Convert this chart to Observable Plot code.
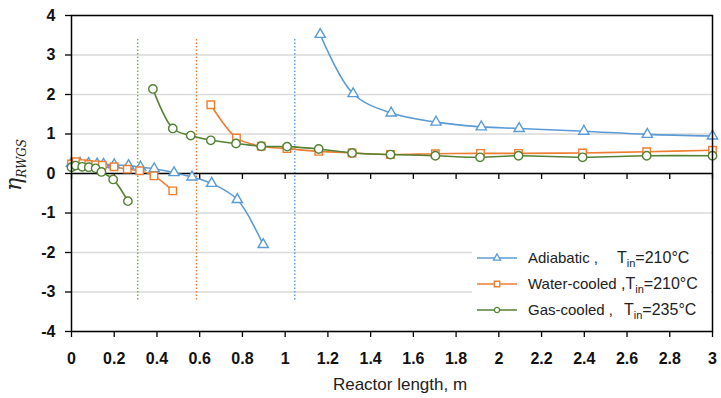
<!DOCTYPE html>
<html>
<head>
<meta charset="utf-8">
<script src="https://cdn.jsdelivr.net/npm/d3@7"></script>
<script src="https://cdn.jsdelivr.net/npm/@observablehq/plot@0.6"></script>
<style>
  html, body { margin: 0; padding: 0; background: #fff; }
  #chart svg { display: block; }
</style>
</head>
<body>
<div id="chart"></div>
<script>
// ---- Data ----
const xTicks = [0, 0.2, 0.4, 0.6, 0.8, 1, 1.2, 1.4, 1.6, 1.8, 2, 2.2, 2.4, 2.6, 2.8, 3];
const yTicks = [-4, -3, -2, -1, 0, 1, 2, 3, 4];

const adiabaticEarlyX = [0, 0.04, 0.08, 0.12, 0.15, 0.2, 0.267, 0.323, 0.387, 0.48, 0.564, 0.656, 0.776, 0.897];
const adiabaticEarlyY = [0.26, 0.26, 0.25, 0.24, 0.23, 0.22, 0.2, 0.16, 0.12, 0.02, -0.09, -0.25, -0.66, -1.8];
const adiabaticLateX = [1.164, 1.318, 1.496, 1.706, 1.918, 2.095, 2.398, 2.695, 3.0];
const adiabaticLateY = [3.52, 2.02, 1.53, 1.30, 1.18, 1.14, 1.07, 0.99, 0.95];

const waterEarlyX = [0, 0.022, 0.053, 0.081, 0.113, 0.144, 0.199, 0.261, 0.319, 0.386, 0.474];
const waterEarlyY = [0.24, 0.30, 0.25, 0.23, 0.22, 0.21, 0.17, 0.11, 0.07, -0.06, -0.44];
const waterLateX = [0.652, 0.772, 0.888, 1.008, 1.157, 1.313, 1.493, 1.703, 1.914, 2.092, 2.392, 2.692, 3.0];
const waterLateY = [1.74, 0.90, 0.69, 0.63, 0.56, 0.52, 0.48, 0.50, 0.51, 0.51, 0.52, 0.55, 0.59];

const gasEarlyX = [0, 0.019, 0.05, 0.081, 0.113, 0.14, 0.195, 0.264];
const gasEarlyY = [0.16, 0.20, 0.17, 0.16, 0.13, 0.04, -0.15, -0.70];
const gasLateX = [0.381, 0.474, 0.558, 0.652, 0.77, 0.888, 1.009, 1.157, 1.313, 1.493, 1.703, 1.912, 2.092, 2.392, 2.692, 3.0];
const gasLateY = [2.14, 1.14, 0.96, 0.84, 0.76, 0.69, 0.68, 0.62, 0.52, 0.48, 0.45, 0.41, 0.45, 0.41, 0.45, 0.45];

const boundaryX = [0.31, 0.585, 1.045];
const boundaryColor = ["#70AD47", "#ED7D31", "#5B9BD5"];
const boundaryTop = 3.4;
const boundaryBottom = -3.2;

const seriesNames = ["Adiabatic ,", "Water-cooled ,", "Gas-cooled ,"];
const seriesTemps = ["210°C", "210°C", "235°C"];
const seriesColors = ["#5B9BD5", "#ED7D31", "#548235"];
const seriesSymbols = ["triangle", "square", "circle"];

// ---- Build table ----
function rows(xs, ys, s, part) {
  return xs.map((x, i) => ({x, y: ys[i], s, seg: s + part}));
}
const data = [
  ...rows(adiabaticEarlyX, adiabaticEarlyY, 0, "a"),
  ...rows(adiabaticLateX, adiabaticLateY, 0, "b"),
  ...rows(waterEarlyX, waterEarlyY, 1, "a"),
  ...rows(waterLateX, waterLateY, 1, "b"),
  ...rows(gasEarlyX, gasEarlyY, 2, "a"),
  ...rows(gasLateX, gasLateY, 2, "b")
];
const boundaries = boundaryX.map((x, i) => ({x, c: boundaryColor[i]}));
const xLabelRows = xTicks.map(t => ({t, y: -4}));
const yLabelRows = yTicks.map(t => ({t, x: 0}));

const fmt = d => String(+d.toFixed(1));
const tickFont = "'Liberation Sans', Arial, sans-serif";

const marks = [
  Plot.gridY(yTicks, {stroke: "#d9d9d9", strokeOpacity: 1, strokeWidth: 1.5}),
  Plot.ruleX(boundaries, {x: "x", y1: boundaryBottom, y2: boundaryTop, stroke: "c", strokeWidth: 1.4, strokeDasharray: "1.5,2"}),
  Plot.ruleY([0], {stroke: "black", strokeWidth: 1.6}),
  Plot.ruleX(xTicks, {x: d => d, y1: 0, y2: -0.15, stroke: "black", strokeWidth: 1.3})
];
[0, 1, 2].forEach(s => {
  const sub = data.filter(d => d.s === s);
  marks.push(Plot.line(sub, {x: "x", y: "y", z: "seg", stroke: seriesColors[s], strokeWidth: 1.6, curve: "catmull-rom"}));
});
[0, 1, 2].forEach(s => {
  const sub = data.filter(d => d.s === s);
  marks.push(Plot.dot(sub, {x: "x", y: "y", symbol: () => seriesSymbols[s], r: s === 0 ? 3.8 : (s === 1 ? 4.2 : 4.2), stroke: seriesColors[s], fill: "white", strokeWidth: 1.4}));
});
marks.push(Plot.frame({stroke: "black", strokeWidth: 1.5}));
marks.push(Plot.axisX(xTicks, {tickSize: 6, tickFormat: () => "", label: null, stroke: "black", strokeWidth: 1.3}));
marks.push(Plot.axisY(yTicks, {tickSize: 6, tickFormat: () => "", label: null, stroke: "black", strokeWidth: 1.3}));
// tick labels
marks.push(Plot.text(xLabelRows, {x: "t", y: "y", dy: 27, text: d => fmt(d.t), fontWeight: "bold", fontSize: 16, fill: "#111", fontFamily: tickFont}));
marks.push(Plot.text(yLabelRows, {x: "x", y: "t", dx: -16, textAnchor: "end", text: d => fmt(d.t), fontWeight: "bold", fontSize: 16, fill: "#111", fontFamily: tickFont}));

const chart = Plot.plot({
  width: 721,
  height: 398,
  marginLeft: 71,
  marginRight: 9,
  marginTop: 15,
  marginBottom: 67,
  x: {domain: [0, 3]},
  y: {domain: [-4, 4]},
  style: {fontFamily: tickFont, fontSize: "15px", color: "#222", background: "white"},
  marks
});
document.getElementById("chart").appendChild(chart);

// ---- Titles and legend ----
const svg = d3.select(chart);
svg.append("text")
  .attr("x", 400).attr("y", 390)
  .attr("text-anchor", "middle")
  .attr("font-family", tickFont)
  .attr("font-size", 17)
  .attr("fill", "#222")
  .text("Reactor length, m");

const yl = svg.append("text")
  .attr("transform", "translate(21,165) rotate(-90)")
  .attr("text-anchor", "middle")
  .attr("font-family", "'DejaVu Serif', 'Liberation Serif', serif")
  .attr("font-style", "italic")
  .attr("fill", "#222");
yl.append("tspan").attr("font-size", 22).text("η");
yl.append("tspan").attr("font-size", 12).attr("dy", 5).text("RWGS");

const lg = svg.append("g").attr("font-family", tickFont).attr("fill", "#222").attr("text-anchor", "start");
lg.append("rect").attr("x", 472).attr("y", 240).attr("width", 239).attr("height", 84).attr("fill", "white");
const rowY = [258, 284, 310];
const tX = [617, 621, 624];
const symbolScale = {triangle: d3.symbolTriangle, square: d3.symbolSquare, circle: d3.symbolCircle};
seriesNames.forEach((name, i) => {
  const y = rowY[i];
  lg.append("line").attr("x1", 477).attr("x2", 517).attr("y1", y).attr("y2", y)
    .attr("stroke", seriesColors[i]).attr("stroke-width", 1.6);
  lg.append("path")
    .attr("d", d3.symbol(symbolScale[seriesSymbols[i]], i === 0 ? 22 : (i === 1 ? 30 : 22))())
    .attr("transform", `translate(497,${y})`)
    .attr("fill", "white").attr("stroke", seriesColors[i]).attr("stroke-width", 1.3);
  lg.append("text").attr("x", 528).attr("y", y + 5).attr("font-size", 15)
    .attr("text-anchor", "start").text(i === 1 ? name.replace(" ,", "") : name);
  const t = lg.append("text").attr("x", tX[i]).attr("y", y + 5).attr("font-size", 16).attr("text-anchor", "start");
  if (i === 1) t.append("tspan").text(",");
  t.append("tspan").text("T");
  t.append("tspan").attr("font-size", 11).attr("dy", 4).text("in");
  t.append("tspan").attr("dy", -4).text("=" + seriesTemps[i]);
});
</script>
</body>
</html>
